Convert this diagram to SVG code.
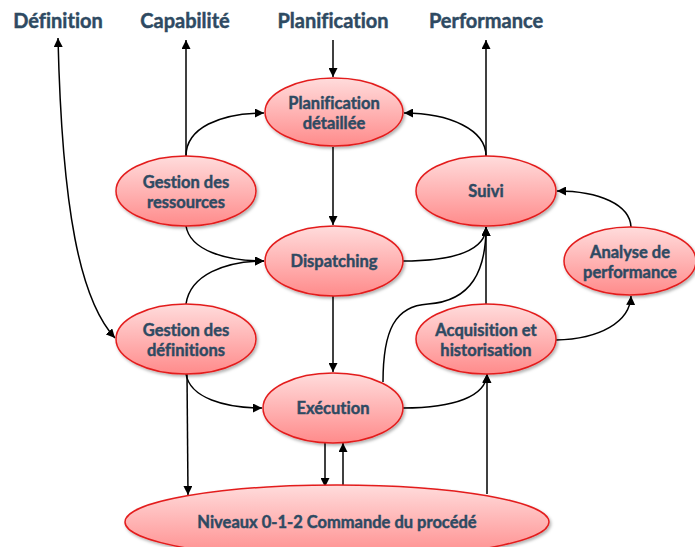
<svg xmlns="http://www.w3.org/2000/svg" width="695" height="547" viewBox="0 0 695 547">
<defs>
<linearGradient id="g" x1="0" y1="0" x2="0" y2="1">
<stop offset="0" stop-color="#ffdcdc"/>
<stop offset="1" stop-color="#ff8b8b"/>
</linearGradient>
<filter id="sh" x="-10%" y="-10%" width="125%" height="130%">
<feDropShadow dx="1.5" dy="2" stdDeviation="1.5" flood-color="#000" flood-opacity="0.3"/>
</filter>
<marker id="ar" viewBox="0 0 10 10" refX="10" refY="5" markerWidth="9" markerHeight="9" markerUnits="userSpaceOnUse" orient="auto-start-reverse">
<path d="M0,0 L10,5 L0,10 Z" fill="#000"/>
</marker>
<style>
text{font-family:Lato,"Open Sans","DejaVu Sans",sans-serif;font-weight:bold;fill:#2e4a62;stroke:#2e4a62;stroke-width:0.45;text-anchor:middle;font-variant-ligatures:none}
.n ellipse{fill:url(#g);stroke:#e31d1d;stroke-width:1.5;filter:url(#sh)}
.n text{font-size:16.5px}
.lbl{font-size:20px}
#connectors path{fill:none;stroke:#000;stroke-width:1.5}
.a{marker-end:url(#ar)}
</style>
</defs>
<rect width="695" height="547" fill="#fff"/>
<g id="labels">
<text class="lbl" x="58" y="28">Définition</text>
<text class="lbl" x="185" y="28">Capabilité</text>
<text class="lbl" x="333" y="28">Planification</text>
<text class="lbl" x="486" y="28">Performance</text>
</g>
<g id="connectors">
<path d="M58,38 C62,210 80,300 115,338" marker-start="url(#ar)" marker-end="url(#ar)"/>
<path class="a" d="M186,156 L186,40"/>
<path class="a" d="M186,156 C186,128 220,113 264,113"/>
<path class="a" d="M333,40 L333,77"/>
<path class="a" d="M486,156 L486,40"/>
<path class="a" d="M486,156 C486,130 450,113 404,113"/>
<path class="a" d="M333,147 L333,225"/>
<path class="a" d="M186,226 C190,250 225,261 264,261"/>
<path class="a" d="M186,304 C190,275 225,261 264,261"/>
<path class="a" d="M403,261 C455,261 486,250 486,227"/>
<path class="a" d="M383,382 C383,330 395,306 428,304 C472,301 486,270 486,227"/>
<path class="a" d="M486,304 L486,227"/>
<path class="a" d="M556,340 C600,339 630,322 631,296"/>
<path class="a" d="M631,227 C630,205 600,191 557,191"/>
<path class="a" d="M333,295 L333,372"/>
<path class="a" d="M186,374 C190,398 225,408 262,408"/>
<path class="a" d="M187,374 L188,495"/>
<path class="a" d="M403,408 C455,408 486,396 487,374"/>
<path class="a" d="M325,443 L325,487"/>
<path class="a" d="M343,486 L343,443"/>
<path class="a" d="M487,494 L487,374"/>
</g>
<g id="planif" class="n"><ellipse cx="334" cy="112" rx="69" ry="34"/><text x="334" y="109">Planification</text><text x="334" y="129">détaillée</text></g>
<g id="ressources" class="n"><ellipse cx="186" cy="191" rx="70" ry="35"/><text x="186" y="188">Gestion des</text><text x="186" y="208">ressources</text></g>
<g id="suivi" class="n"><ellipse cx="486" cy="191" rx="70" ry="35"/><text x="486" y="197">Suivi</text></g>
<g id="dispatching" class="n"><ellipse cx="334" cy="261" rx="69" ry="35"/><text x="334" y="267">Dispatching</text></g>
<g id="analyse" class="n"><ellipse cx="630" cy="261" rx="66" ry="34"/><text x="630" y="258">Analyse de</text><text x="630" y="278">performance</text></g>
<g id="definitions" class="n"><ellipse cx="186" cy="339" rx="70" ry="35"/><text x="186" y="336">Gestion des</text><text x="186" y="356">définitions</text></g>
<g id="acquisition" class="n"><ellipse cx="486" cy="339" rx="70" ry="35"/><text x="486" y="336">Acquisition et</text><text x="486" y="356">historisation</text></g>
<g id="execution" class="n"><ellipse cx="333" cy="408" rx="70" ry="35"/><text x="333" y="414">Exécution</text></g>
<g id="niveaux" class="n"><ellipse cx="337" cy="522" rx="212" ry="37"/><text x="337" y="528">Niveaux 0-1-2 Commande du procédé</text></g>
</svg>
